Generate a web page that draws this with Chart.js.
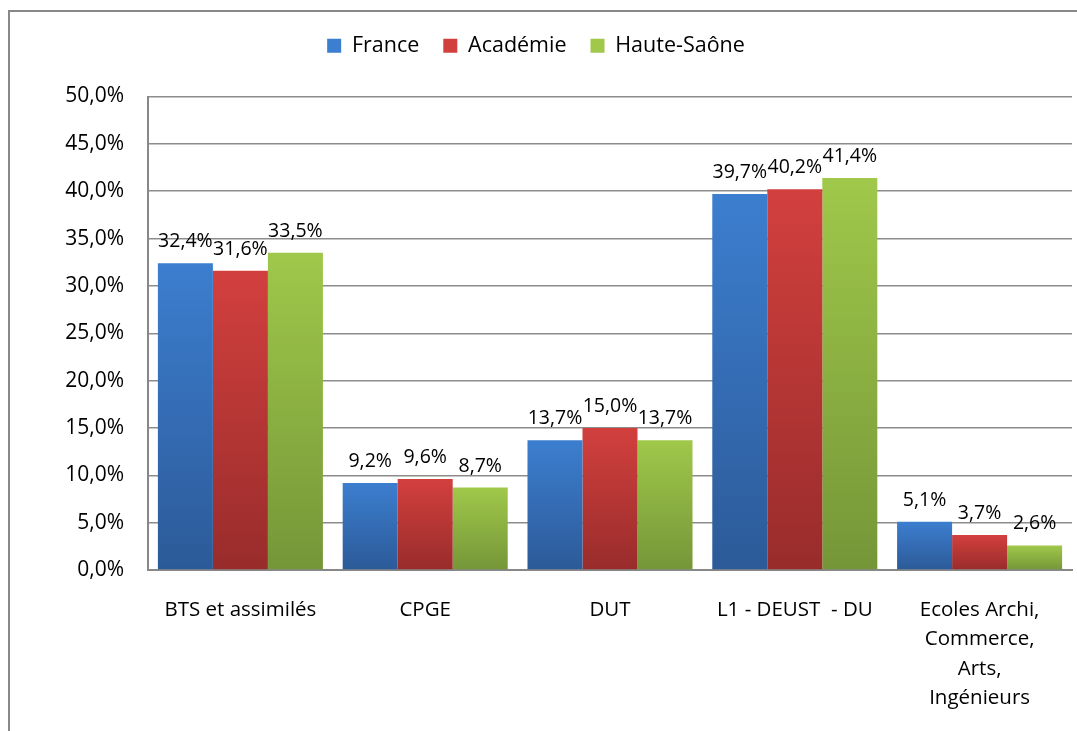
<!DOCTYPE html>
<html lang="fr">
  <head>
    <meta charset="UTF-8" />
    <title>Poursuite d'études - Chart.js</title>
    <script src="https://cdn.jsdelivr.net/npm/chart.js"></script>
    <style>
      body {
        margin: 0;
        background: #fff;
        overflow: hidden;
      }
      .frame {
        position: absolute;
        left: 8px;
        top: 10px;
        width: 2000px;
        height: 2000px;
        border-left: 2px solid #888;
        border-top: 2px solid #888;
      }
      canvas {
        position: absolute;
        left: 0;
        top: 0;
      }
    </style>
  </head>
  <body>
    <div class="frame"></div>
    <canvas id="chart" width="1077" height="731"></canvas>
    <script>
      // données
      const categories = [
        'BTS et assimilés',
        'CPGE',
        'DUT',
        'L1 - DEUST  - DU',
        ['Ecoles Archi,', 'Commerce,', 'Arts,', 'Ingénieurs'],
      ];
      const france = [32.4, 9.2, 13.7, 39.7, 5.1];
      const academie = [31.6, 9.6, 15.0, 40.2, 3.7];
      const hauteSaone = [33.5, 8.7, 13.7, 41.4, 2.6];
      const yTicks = [0, 5, 10, 15, 20, 25, 30, 35, 40, 45, 50];

      const FONT = 'Open Sans';
      const fmt = (v) => v.toFixed(1).replace('.', ',') + '%';

      // dégradé vertical par barre
      function gradient(top, bottom) {
        return (ctx) => {
          const chart = ctx.chart;
          if (!chart.chartArea || ctx.raw === undefined) return top;
          const y = chart.scales.y;
          const y0 = y.getPixelForValue(ctx.raw);
          const y1 = y.getPixelForValue(0);
          if (!isFinite(y0) || y0 === y1) return top;
          const g = chart.ctx.createLinearGradient(0, y0, 0, y1);
          g.addColorStop(0, top);
          g.addColorStop(1, bottom);
          return g;
        };
      }

      const valueLabels = {
        id: 'valueLabels',
        afterDatasetsDraw(chart) {
          const ctx = chart.ctx;
          ctx.save();
          ctx.font = '19.5px "' + FONT + '"';
          ctx.fillStyle = '#000';
          ctx.textAlign = 'center';
          ctx.textBaseline = 'alphabetic';
          chart.data.datasets.forEach((ds, i) => {
            chart.getDatasetMeta(i).data.forEach((bar, j) => {
              ctx.fillText(fmt(ds.data[j]), bar.x, bar.y - 16);
            });
          });
          ctx.restore();
        },
      };

      const legendSpace = {
        id: 'legendSpace',
        beforeInit(chart) {
          const fit = chart.legend.fit;
          chart.legend.fit = function () {
            fit.call(this);
            this.height += 30;
          };
        },
      };

      new Chart(document.getElementById('chart'), {
        type: 'bar',
        data: {
          labels: categories,
          datasets: [
            {
              label: 'France',
              data: france,
              backgroundColor: gradient('#3c7ecf', '#2c5a98'),
            },
            {
              label: 'Académie',
              data: academie,
              backgroundColor: gradient('#d2403e', '#982c2b'),
            },
            {
              label: 'Haute-Saône',
              data: hauteSaone,
              backgroundColor: gradient('#a0c84a', '#759638'),
            },
          ],
        },
        options: {
          responsive: false,
          animation: false,
          layout: { padding: { top: 11, left: 0, right: 5, bottom: 0 } },
          datasets: {
            bar: { categoryPercentage: 0.893, barPercentage: 1.0 },
          },
          plugins: {
            legend: {
              position: 'top',
              labels: {
                boxWidth: 14,
                boxHeight: 14,
                padding: 24,
                color: '#000',
                font: { family: FONT, size: 21.5 },
              },
            },
            tooltip: { enabled: false },
          },
          scales: {
            x: {
              grid: { display: false, drawTicks: false },
              border: { color: '#888', width: 2 },
              ticks: {
                padding: 25,
                color: '#000',
                maxRotation: 0,
                autoSkip: false,
                font: { family: FONT, size: 20.5, lineHeight: 1.44 },
              },
              afterFit(scale) {
                scale.height = 161;
              },
            },
            y: {
              min: 0,
              max: 50,
              afterBuildTicks(scale) {
                scale.ticks = yTicks.map((v) => ({ value: v }));
              },
              grid: { color: '#8c8c8c', lineWidth: 1.5, drawTicks: false },
              border: { color: '#888', width: 2 },
              ticks: {
                padding: 24,
                color: '#000',
                font: { family: FONT, size: 21 },
                callback: (v) => fmt(v),
              },
              afterFit(scale) {
                scale.width = 148;
              },
            },
          },
        },
        plugins: [valueLabels, legendSpace],
      });
    </script>
  </body>
</html>
